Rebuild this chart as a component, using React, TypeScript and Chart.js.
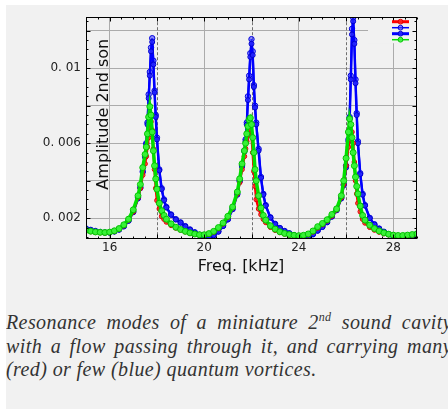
import React, { useEffect, useRef } from "react";
import { Chart, registerables } from "chart.js";

Chart.register(...registerables);

// Frequency axis samples (kHz)
const freqKHz = [
  15.0, 15.2, 15.4, 15.6, 15.8, 16.0, 16.2, 16.4, 16.6, 16.8,
  17.0, 17.2, 17.3, 17.4, 17.5, 17.55, 17.6, 17.65, 17.7, 17.75,
  17.8, 17.85, 17.9, 17.95, 18.0, 18.1, 18.2, 18.3, 18.4, 18.6,
  18.8, 19.0, 19.2, 19.4, 19.6, 19.8, 20.0, 20.2, 20.4, 20.6,
  20.8, 21.0, 21.2, 21.4, 21.5, 21.6, 21.7, 21.75, 21.8, 21.85,
  21.9, 21.95, 22.0, 22.05, 22.1, 22.15, 22.2, 22.3, 22.4, 22.5,
  22.6, 22.8, 23.0, 23.2, 23.4, 23.6, 23.8, 24.0, 24.2, 24.4,
  24.6, 24.8, 25.0, 25.2, 25.4, 25.6, 25.8, 25.9, 26.0, 26.1,
  26.15, 26.2, 26.25, 26.3, 26.35, 26.4, 26.45, 26.5, 26.6, 26.7,
  26.8, 27.0, 27.2, 27.4, 27.6, 27.8, 28.0, 28.2, 28.4, 28.6,
  28.8, 29.0,
];

// Amplitudes in units of 0.001
const redAmp = [
  1.33, 1.29, 1.25, 1.23, 1.22, 1.24, 1.3, 1.42, 1.6, 1.9,
  2.35, 3.1, 3.6, 4.3, 4.9, 5.3, 5.8, 6.3, 6.8, 7.15,
  6.7, 5.7, 4.6, 3.6, 2.95, 2.5, 2.1, 1.95, 1.8, 1.62,
  1.48, 1.37, 1.28, 1.2, 1.15, 1.11, 1.1, 1.14, 1.26, 1.45,
  1.7, 2.05, 2.55, 3.3, 3.9, 4.6, 5.3, 5.7, 6.1, 6.4,
  6.65, 6.75, 6.4, 5.5, 4.5, 3.7, 3.0, 2.5, 2.2, 1.95,
  1.78, 1.52, 1.36, 1.24, 1.16, 1.1, 1.06, 1.04, 1.06, 1.12,
  1.27, 1.48, 1.66, 1.86, 2.12, 2.45, 3.1, 3.8, 4.8, 5.8,
  6.2, 6.55, 6.6, 6.0, 5.0, 4.0, 3.3, 2.8, 2.35, 1.95,
  1.75, 1.52, 1.37, 1.26, 1.18, 1.12, 1.07, 1.05, 1.05, 1.07,
  1.1, 1.14,
];

const blueAmpA = [
  1.45, 1.38, 1.32, 1.27, 1.24, 1.24, 1.3, 1.4, 1.58, 1.88,
  2.35, 3.1, 3.65, 4.5, 5.3, 6.0, 7.1, 8.6, 9.8, 11.1,
  11.6, 10.4, 8.8, 7.5, 6.3, 4.6, 3.6, 3.0, 2.6, 2.2,
  1.95, 1.78, 1.58, 1.4, 1.25, 1.12, 1.02, 1.0, 1.1, 1.3,
  1.6, 1.95, 2.5, 3.3, 4.0, 4.8, 5.6, 6.2, 7.1, 8.5,
  9.6, 10.8, 11.55, 10.9, 9.1, 8.0, 7.1, 5.7, 4.2, 3.3,
  2.7, 2.05, 1.7, 1.48, 1.32, 1.2, 1.1, 1.02, 0.98, 1.02,
  1.15, 1.35, 1.55, 1.8, 2.1, 2.45, 3.1, 3.8, 4.8, 6.2,
  7.4, 9.6, 12.1, 12.7, 11.5, 9.4, 7.6, 6.1, 4.4, 3.3,
  2.7, 2.02, 1.68, 1.45, 1.28, 1.15, 1.05, 0.98, 0.96, 0.99,
  1.06, 1.17,
];

const blueAmpB = [
  1.44, 1.37, 1.31, 1.26, 1.23, 1.23, 1.29, 1.39, 1.56, 1.86,
  2.32, 3.05, 3.6, 4.45, 5.25, 5.95, 7.0, 8.4, 9.6, 10.9,
  11.4, 10.2, 8.7, 7.4, 6.2, 4.55, 3.55, 2.95, 2.57, 2.18,
  1.93, 1.76, 1.56, 1.39, 1.24, 1.11, 1.01, 0.99, 1.09, 1.28,
  1.58, 1.93, 2.48, 3.25, 3.95, 4.75, 5.55, 6.1, 7.0, 8.3,
  9.4, 10.6, 11.3, 10.7, 9.0, 7.9, 7.0, 5.6, 4.15, 3.25,
  2.67, 2.03, 1.68, 1.47, 1.31, 1.19, 1.09, 1.01, 0.97, 1.01,
  1.14, 1.33, 1.53, 1.78, 2.08, 2.42, 3.05, 3.75, 4.7, 6.1,
  7.3, 9.4, 11.8, 12.5, 11.3, 9.2, 7.5, 6.0, 4.35, 3.25,
  2.67, 2.0, 1.66, 1.44, 1.27, 1.14, 1.04, 0.97, 0.95, 0.98,
  1.05, 1.16,
];

const greenAmp = [
  1.36, 1.31, 1.27, 1.25, 1.24, 1.26, 1.33, 1.45, 1.65, 1.95,
  2.45, 3.2, 3.8, 4.7, 5.4, 5.8, 6.5, 7.4, 7.95, 7.5,
  6.6, 5.6, 4.8, 4.1, 3.55, 2.8, 2.4, 2.15, 1.95, 1.7,
  1.52, 1.4, 1.3, 1.22, 1.16, 1.12, 1.12, 1.18, 1.3, 1.5,
  1.75, 2.1, 2.6, 3.4, 4.1, 4.9, 5.6, 6.0, 6.5, 6.9,
  7.25, 7.35, 7.0, 6.3, 5.5, 4.6, 4.0, 3.2, 2.55, 2.15,
  1.9, 1.6, 1.42, 1.28, 1.19, 1.13, 1.09, 1.07, 1.09, 1.16,
  1.32, 1.55, 1.72, 1.92, 2.2, 2.5, 3.2, 4.0, 5.2, 6.6,
  7.3, 7.0, 6.3, 5.5, 4.8, 4.2, 3.7, 3.3, 2.65, 2.15,
  1.9, 1.63, 1.45, 1.32, 1.22, 1.15, 1.1, 1.08, 1.08, 1.1,
  1.13, 1.17,
];

const xMajorTicks = [16, 18, 20, 22, 24, 26, 28];
const xLabeledTicks = [16, 20, 24, 28];
const yMajorTicks = [2, 4, 6, 8, 10, 12];
const yTickLabels: Record<number, string> = { 2: "0. 002", 6: "0. 006", 10: "0. 01" };
const xTitle = "Freq. [kHz]";
const yTitle = "Amplitude 2nd son";

const BG = "#f1f1f1";
const legendLineWidths = [3, 1.5, 3, 1.5];

const decorPlugin = {
  id: "decor",
  beforeDatasetsDraw(chart: any) {
    const { ctx, chartArea: a, scales } = chart;
    const xs = scales.x;
    ctx.save();
    ctx.strokeStyle = "#707070";
    ctx.lineWidth = 1;
    ctx.setLineDash([3, 2]);
    xMajorTicks.forEach((v) => {
      if (xLabeledTicks.includes(v)) return;
      const px = Math.round(xs.getPixelForValue(v)) + 0.5;
      ctx.beginPath();
      ctx.moveTo(px, a.top);
      ctx.lineTo(px, a.bottom);
      ctx.stroke();
    });
    ctx.setLineDash([]);
    ctx.fillStyle = BG;
    ctx.fillRect(a.right - 49, a.top, 49, 26);
    ctx.translate(a.left + 18, a.top + 97);
    ctx.rotate(-Math.PI / 2);
    ctx.font = '16px "DejaVu Sans"';
    ctx.fillStyle = "#111";
    ctx.textAlign = "center";
    ctx.textBaseline = "middle";
    ctx.fillText(yTitle, 0, 0);
    ctx.restore();
  },
  afterDatasetsDraw(chart: any) {
    const { ctx, chartArea: a, scales } = chart;
    const xs = scales.x;
    const ys = scales.y;
    ctx.save();
    ctx.strokeStyle = "#000";
    ctx.lineWidth = 1;
    const L = Math.round(a.left) + 0.5;
    const R = Math.round(a.right) - 0.5;
    const T = Math.round(a.top) + 0.5;
    const B = Math.floor(a.bottom) + 0.5;
    ctx.strokeRect(L, T, R - L, B - T);
    ctx.beginPath();
    for (let v = Math.ceil(xs.min * 2) / 2; v <= xs.max + 1e-9; v += 0.5) {
      const px = Math.round(xs.getPixelForValue(v)) + 0.5;
      const len = xMajorTicks.includes(v) ? 4 : 2;
      ctx.moveTo(px, B);
      ctx.lineTo(px, B - len);
      ctx.moveTo(px, T);
      ctx.lineTo(px, T + len);
    }
    for (let v = Math.ceil(ys.min * 2) / 2; v <= ys.max + 1e-9; v += 0.5) {
      const py = Math.round(ys.getPixelForValue(v)) + 0.5;
      const len = yMajorTicks.includes(v) ? 4 : 2;
      ctx.moveTo(L, py);
      ctx.lineTo(L + len, py);
      ctx.moveTo(R, py);
      ctx.lineTo(R - len, py);
    }
    ctx.stroke();

    // legend (no labels)
    chart.data.datasets.forEach((ds: any, i: number) => {
      const yy = a.top + 4.5 + i * 6;
      const x0 = a.right - 25;
      const x1 = a.right - 8;
      ctx.strokeStyle = ds.borderColor;
      ctx.lineWidth = legendLineWidths[i];
      ctx.beginPath();
      ctx.moveTo(x0, yy);
      ctx.lineTo(x1, yy);
      ctx.stroke();
      ctx.beginPath();
      ctx.arc((x0 + x1) / 2, yy, 2.4, 0, Math.PI * 2);
      ctx.fillStyle = ds.pointBackgroundColor;
      ctx.fill();
      ctx.lineWidth = 1;
      ctx.strokeStyle = ds.pointBorderColor;
      ctx.stroke();
    });

    ctx.font = '16px "DejaVu Sans"';
    ctx.fillStyle = "#111";
    ctx.textAlign = "center";
    ctx.textBaseline = "middle";
    ctx.fillText(xTitle, a.left + 155, a.bottom + 28.5);
    ctx.restore();
  },
};

export default function App() {
  const ref = useRef<HTMLCanvasElement>(null);
  useEffect(() => {
    const canvas = ref.current;
    if (!canvas) return;
    const mk = (vals: number[]) => freqKHz.map((f, i) => ({ x: f, y: vals[i] }));
    Chart.defaults.font.family = '"DejaVu Sans"';
    const chart = new Chart(canvas, {
      type: "line",
      data: {
        datasets: [
          {
            label: "many vortices",
            data: mk(redAmp),
            borderColor: "#ff0000",
            borderWidth: 2.5,
            pointRadius: 2.3,
            pointBorderWidth: 1,
            pointBackgroundColor: "rgba(255,40,40,0.7)",
            pointBorderColor: "#e00000",
            order: 1,
          },
          {
            label: "few vortices",
            data: mk(blueAmpA),
            borderColor: "#0000ff",
            borderWidth: 2,
            pointRadius: 2.7,
            pointBorderWidth: 1,
            pointBackgroundColor: "rgba(70,70,255,0.6)",
            pointBorderColor: "#0000dd",
            order: 3,
          },
          {
            label: "few vortices 2",
            data: mk(blueAmpB),
            borderColor: "#0000ff",
            borderWidth: 2.5,
            pointRadius: 2.5,
            pointBorderWidth: 1,
            pointBackgroundColor: "rgba(40,40,255,0.8)",
            pointBorderColor: "#0000cc",
            order: 2,
          },
          {
            label: "reference",
            data: mk(greenAmp),
            borderColor: "#00e000",
            borderWidth: 3.5,
            pointRadius: 3,
            pointBorderWidth: 1,
            pointBackgroundColor: "rgba(60,245,60,0.9)",
            pointBorderColor: "#00c400",
            order: 0,
          },
        ],
      },
      options: {
        responsive: false,
        animation: false,
        devicePixelRatio: 1,
        layout: { padding: { top: 6, right: 31, left: 0, bottom: 0 } },
        plugins: { legend: { display: false }, tooltip: { enabled: false } },
        scales: {
          x: {
            type: "linear",
            min: 15,
            max: 29,
            afterFit: (s: any) => {
              s.height = 46.5;
            },
            afterBuildTicks: (s: any) => {
              s.ticks = xMajorTicks.map((v) => ({ value: v }));
            },
            ticks: {
              callback: (v: any) => (xLabeledTicks.includes(Number(v)) ? String(v) : ""),
              padding: 2,
              color: "#222",
              font: { size: 12 },
              maxRotation: 0,
              autoSkip: false,
            },
            grid: {
              drawTicks: false,
              color: (c: any) =>
                c.tick && xLabeledTicks.includes(c.tick.value) ? "#ababab" : "rgba(0,0,0,0)",
              lineWidth: 1,
            },
            border: { display: false },
          },
          y: {
            type: "linear",
            min: 0.92,
            max: 12.72,
            afterFit: (s: any) => {
              s.width = 80;
            },
            afterBuildTicks: (s: any) => {
              s.ticks = yMajorTicks.map((v) => ({ value: v }));
            },
            ticks: {
              callback: (v: any) => yTickLabels[Number(v)] ?? "",
              padding: 5,
              color: "#222",
              font: { size: 12 },
              autoSkip: false,
            },
            grid: { drawTicks: false, color: "#ababab", lineWidth: 1 },
            border: { display: false },
          },
        },
      },
      plugins: [decorPlugin],
    } as any);
    return () => chart.destroy();
  }, []);

  return (
    <div
      style={{
        position: "absolute",
        left: 6,
        top: 5,
        width: 442,
        height: 404,
        background: BG,
        overflow: "hidden",
      }}
    >
      <canvas ref={ref} width={442} height={280} style={{ display: "block" }} />
      <div
        style={{
          position: "absolute",
          left: 0,
          top: 306,
          width: 446,
          fontFamily: '"Liberation Serif", serif',
          fontStyle: "italic",
          fontSize: 20,
          letterSpacing: "0.4px",
          lineHeight: "23.5px",
          textAlign: "justify",
          color: "#333",
        }}
      >
        Resonance modes of a miniature 2
        <sup style={{ fontSize: "0.6em", lineHeight: 0, verticalAlign: "super" }}>nd</sup> sound
        cavity with a flow passing through it, and carrying many (red) or few (blue) quantum
        vortices.
      </div>
    </div>
  );
}
